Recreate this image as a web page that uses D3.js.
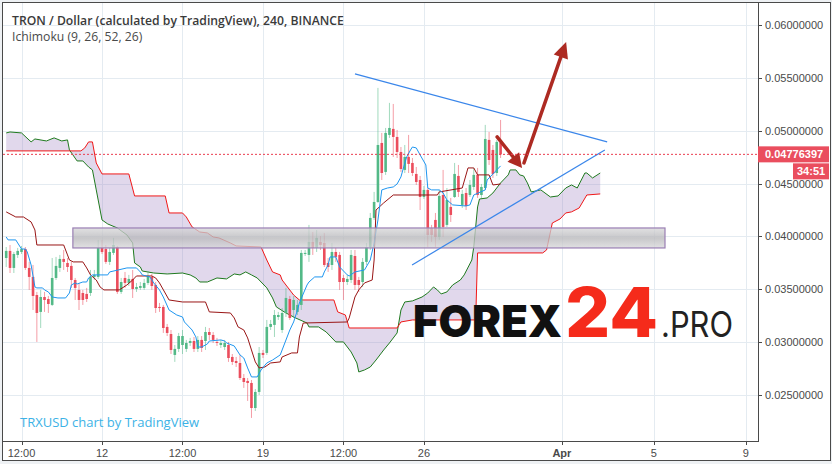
<!DOCTYPE html>
<html><head><meta charset="utf-8">
<script src="https://cdn.jsdelivr.net/npm/d3@7/dist/d3.min.js"></script>
<style>html,body{margin:0;padding:0;background:#eef1f4;}svg{display:block}</style>
</head><body><svg id="c" width="832" height="464"></svg>
<script>
// ---------------- DATA ----------------
const title = "TRON / Dollar (calculated by TradingView), 240, BINANCE";
const subtitle = "Ichimoku (9, 26, 52, 26)";
const credit = "TRXUSD chart by TradingView";
const priceTicks = [0.025, 0.03, 0.035, 0.04, 0.045, 0.05, 0.055, 0.06];
const timeTicks = ["2018-03-08T12:00Z","2018-03-12T00:00Z","2018-03-15T12:00Z","2018-03-19T00:00Z","2018-03-22T12:00Z","2018-03-26T00:00Z","2018-04-01T00:00Z","2018-04-05T00:00Z","2018-04-09T00:00Z"];
const timeLabels = ["12:00","12","12:00","19","12:00","26","Apr","5","9"];
const firstBar = "2018-03-07T20:00Z";   // 4h bars
const barHours = 4;
const lastPrice = 0.04776397;
const countdown = "34:51";

const open = [.03796,.03863,.03702,.03825,.03853,.03881,.03702,.03617,.03446,.03286,
.03427,.03408,.03352,.03607,.03702,.03787,.03749,.03721,.03588,.03494,
.03465,.03456,.03465,.03617,.03617,.03891,.03881,.03759,.03844,.03900,
.03475,.03607,.03560,.03598,.03503,.03513,.03513,.03560,.03617,.03541,
.03333,.03333,.03144,.03077,.02879,.02936,.02973,.02936,.02992,.03011,
.02936,.03021,.03011,.03096,.03068,.03002,.02973,.02954,.02973,.02860,
.02822,.02803,.02661,.02633,.02614,.02377,.02529,.02898,.02898,.03144,
.03163,.03238,.03115,.03276,.03408,.03304,.03286,.03352,.03834,.03825,
.03948,.03891,.03948,.03938,.03749,.03730,.03853,.03825,.03607,.03569,
.03588,.03815,.03588,.03569,.03759,.03900,.04175,.04326,.04884,.04610,
.04960,.05017,.04941,.04799,.04629,.04752,.04695,.04591,.04534,.04373,
.04440,.04080,.04156,.03995,.04392,.04109,.04279,.04373,.04572,.04298,
.04411,.04392,.04468,.04582,.04392,.04458,.04913,.04818,.04600,.04884];
const high = [.03900,.03919,.03853,.03891,.03910,.03900,.03759,.03730,.03475,.03494,
.03475,.03437,.03796,.03806,.03825,.03872,.03796,.03759,.03607,.03560,
.03494,.03513,.03683,.03683,.03967,.03967,.03919,.03891,.03986,.03910,
.03607,.03664,.03636,.03683,.03560,.03569,.03598,.03673,.03645,.03569,
.03371,.03352,.03172,.03115,.02973,.03087,.03115,.03021,.03040,.03049,
.03058,.03058,.03144,.03134,.03096,.03040,.03021,.03021,.03002,.02888,
.02860,.02879,.02699,.02661,.02642,.02557,.02954,.02926,.03210,.03210,
.03304,.03286,.03323,.03513,.03437,.03437,.03399,.03872,.03872,.04109,
.04042,.04061,.04004,.04033,.03796,.03938,.03891,.03853,.03636,.03636,
.03872,.03872,.03617,.03796,.03938,.04222,.04421,.05405,.04979,.05026,
.05263,.05253,.05007,.04846,.04865,.04960,.04742,.04657,.04572,.04477,
.04458,.04109,.04222,.04440,.04629,.04458,.04364,.04695,.04676,.04440,
.04458,.04534,.04648,.04648,.04496,.05055,.04988,.04865,.04913,.05102];
const low = [.03711,.03654,.03654,.03796,.03834,.03683,.03494,.03304,.03002,.03134,
.03286,.03276,.03342,.03588,.03664,.03683,.03664,.03513,.03399,.03304,
.03352,.03380,.03437,.03588,.03598,.03834,.03740,.03730,.03825,.03456,
.03456,.03513,.03531,.03418,.03475,.03494,.03494,.03541,.03494,.03276,
.03286,.03087,.03058,.02888,.02813,.02907,.02888,.02907,.02964,.02907,
.02907,.02907,.02926,.03021,.02992,.02964,.02945,.02926,.02813,.02784,
.02765,.02642,.02567,.02444,.02283,.02349,.02500,.02850,.02879,.03115,
.03049,.03210,.03087,.03238,.03210,.03229,.03257,.03304,.03815,.03759,
.03825,.03853,.03872,.03711,.03664,.03683,.03759,.03494,.03399,.03541,
.03560,.03494,.03475,.03522,.03730,.03872,.04156,.04317,.04534,.04582,
.04932,.04752,.04742,.04610,.04600,.04600,.04572,.04487,.04250,.04354,
.03900,.03948,.03900,.03967,.03995,.04090,.04137,.04364,.04373,.04269,
.04250,.04373,.04440,.04364,.04364,.04440,.04676,.04553,.04572,.04742];
const close = [.03863,.03702,.03834,.03863,.03881,.03702,.03617,.03437,.03276,.03427,
.03399,.03361,.03607,.03721,.03787,.03759,.03711,.03588,.03513,.03399,
.03399,.03408,.03617,.03636,.03891,.03853,.03759,.03853,.03919,.03475,
.03569,.03560,.03598,.03503,.03522,.03531,.03560,.03626,.03531,.03323,
.03323,.03134,.03087,.02926,.02936,.03058,.03058,.02992,.03011,.02936,
.03021,.02945,.03096,.03068,.03021,.02992,.02992,.02992,.02850,.02813,
.02803,.02661,.02623,.02614,.02377,.02529,.02898,.02879,.03144,.03172,
.03257,.03257,.03276,.03418,.03229,.03399,.03352,.03844,.03844,.03948,
.03891,.03986,.03919,.03730,.03711,.03853,.03806,.03569,.03569,.03598,
.03825,.03541,.03541,.03759,.03900,.04175,.04326,.04865,.04600,.04979,
.05026,.04941,.04799,.04638,.04752,.04686,.04600,.04515,.04373,.04440,
.04014,.04014,.03995,.04383,.04090,.04345,.04203,.04591,.04421,.04402,
.04288,.04487,.04582,.04392,.04468,.04922,.04723,.04591,.04894,.04776];

// Ichimoku lines: [bar index, price]
const tenkan = [[0,.03995],[0.5,.03967],[2.5,.03967],[3,.03938],[4,.03881],[5,.03881],[5.5,.03853],[6.5,.03730],[7.5,.03522],[8,.03513],[9.5,.03513],[10,.03494],[11,.03475],[12,.03427],[13.5,.03418],[15.5,.03418],[16.5,.03465],[17,.03541],[18,.03560],[18.5,.03550],[20,.03569],[21,.03569],[21.5,.03607],[22.5,.03636],[26.5,.03636],[27,.03664],[31.5,.03702],[34,.03702],[35,.03664],[35.5,.03636],[37.5,.03617],[38.5,.03560],[40,.03494],[41,.03427],[42.5,.03304],[44.5,.03257],[46,.03238],[46.5,.03191],[48.5,.03115],[49.5,.03049],[50,.02954],[51,.02954],[52.5,.02983],[53,.03011],[56,.03021],[57,.03011],[57.5,.02992],[59.5,.02964],[61,.02879],[62,.02850],[63,.02756],[64,.02671],[65.5,.02671],[66.5,.02737],[68,.02803],[69.5,.02831],[71.5,.02879],[72,.02926],[74,.03115],[75,.03191],[76,.03304],[76.5,.03371],[78.5,.03541],[79,.03569],[80.5,.03617],[82.5,.03617],[83,.03664],[84,.03730],[84.5,.03806],[86,.03806],[87,.03711],[89,.03636],[89.5,.03626],[91,.03664],[93.5,.03683],[95,.03777],[96,.03938],[97,.04156],[98,.04440],[99.5,.04458],[101,.04468],[102,.04496],[103,.04563],[103.5,.04629],[104.5,.04752],[105.5,.04818],[106,.04846],[107,.04837],[108,.04771],[109.5,.04676],[110,.04458],[111,.04440],[113,.04440],[114,.04411],[115,.04345],[116.5,.04298],[120,.04288],[121,.04298],[122,.04392],[125,.04440],[125.5,.04534],[127,.04591],[129,.04667]];
const kijun = [[0,.04232],[2.5,.04184],[4.5,.04184],[6.5,.04137],[7.5,.04061],[8,.03919],[15,.03919],[16,.03825],[16.5,.03777],[17.5,.03759],[20,.03759],[21,.03702],[22,.03636],[23.5,.03588],[24.5,.03522],[25.5,.03494],[29.5,.03494],[31.5,.03541],[33,.03588],[34,.03626],[38,.03626],[39,.03607],[40,.03560],[42.5,.03399],[46,.03380],[52,.03380],[53,.03286],[58.5,.03276],[59.5,.03229],[60.5,.03144],[62,.03115],[63,.03040],[64,.02926],[65,.02813],[66,.02756],[67.5,.02765],[69,.02803],[71.5,.02813],[72,.02860],[74.5,.02898],[76,.02898],[76.5,.03049],[77.5,.03181],[89,.03191],[89.5,.03229],[91,.03427],[92,.03494],[93.5,.03560],[95.5,.03588],[96,.03777],[96.5,.04250],[98.5,.04317],[101,.04392],[112.5,.04392],[113,.04421],[119,.04458],[120.5,.04648],[122,.04648],[123,.04582],[126,.04582],[127,.04487],[129,.04496]];
const spanA = [[0,.04979],[1,.04988],[4,.04979],[6.5,.04894],[7.5,.04922],[10.5,.04903],[12.5,.04932],[14.5,.04903],[16,.04913],[16.5,.04818],[18.5,.04714],[20,.04714],[21.5,.04657],[22.5,.04629],[23.5,.04440],[25,.04156],[26.5,.04118],[29,.04080],[31.5,.04014],[33,.03938],[33.5,.03749],[35,.03711],[35.5,.03673],[38.5,.03654],[42,.03645],[46,.03654],[48,.03636],[49.5,.03607],[50.5,.03569],[52.5,.03569],[55,.03607],[57.5,.03598],[59.5,.03645],[61,.03636],[62.5,.03664],[64,.03636],[65.5,.03607],[68,.03513],[69.5,.03418],[70.5,.03333],[73,.03276],[75.5,.03229],[78.5,.03181],[79,.03144],[81.5,.03144],[83.5,.03096],[86,.03002],[88,.03002],[90,.02907],[91.5,.02803],[92,.02718],[93.5,.02737],[95,.02765],[96.5,.02831],[98.5,.02926],[100,.02992],[102,.03087],[103,.03304],[104,.03380],[106,.03390],[108.5,.03427],[110,.03465],[111.5,.03522],[112.5,.03494],[113.5,.03456],[115,.03475],[116.5,.03541],[118.5,.03588],[119.5,.03636],[121.5,.03777],[122,.03900],[123,.04279],[123.5,.04354],[125.5,.04364],[127,.04411],[129,.04506],[131,.04582],[131.5,.04629],[133,.04629],[134,.04582],[135,.04572],[136,.04506],[137,.04421],[139.5,.04440],[142,.04373],[144,.04383],[146,.04458],[147.5,.04487],[149,.04458],[151,.04600],[151.5,.04600],[153,.04553],[155,.04600]];
const spanB = [[0,.04809],[19.5,.04809],[20.5,.04837],[21.5,.04894],[22.5,.04894],[23.5,.04695],[25,.04591],[32,.04591],[33.5,.04383],[41.5,.04383],[42.5,.04222],[46,.04222],[47,.04184],[48.5,.04090],[50.5,.04042],[52.5,.04033],[54,.03995],[55.5,.03986],[58.5,.03938],[60,.03910],[66.5,.03900],[68,.03777],[69.5,.03664],[71.5,.03636],[72,.03588],[75,.03446],[76.5,.03399],[85.5,.03399],[86.5,.03286],[88.5,.03257],[89.5,.03134],[102,.03134],[103,.03191],[106,.03210],[122.5,.03210],[123,.03844],[140,.03844],[141,.03872],[142.5,.04127],[144.5,.04165],[146,.04222],[147.5,.04232],[149.5,.04269],[151.5,.04392],[155,.04402]];

// Drawings: [bar index, price]
const supportZone = [[17.4, .04080], [171.9, .03891]];
const upperTrend = [[91, .05537], [156.8, .04894]];
const lowerTrend = [[105.9, .03730], [156.2, .04818]];
const smallArrow = [[128.1, .04941], [134.6, .04648]];
const bigArrow = [[135.1, .04695], [146.1, .05840]];

// ---------------- CHART ----------------
const W = 832, H = 464, L = 3, R = 758, T = 3, B = 441;
const svg = d3.select("#c");
const t0 = new Date(firstBar).getTime();
const barDate = i => new Date(t0 + i * barHours * 3600e3);
const x = d3.scaleUtc().domain([new Date("2018-03-07T16:40Z"), new Date("2018-04-09T12:40Z")]).range([L, R]);
const y = d3.scaleLinear().domain([0.02065, 0.06208]).range([B, T]);
const bx = i => x(barDate(i));

svg.append("rect").attr("width", W).attr("height", H).attr("fill", "#eef1f4");
svg.append("rect").attr("x", 2.5).attr("y", 2.5).attr("width", 828).attr("height", 458)
  .attr("fill", "#fff").attr("stroke", "#4a4a4a");

const defs = svg.append("defs");
defs.append("clipPath").attr("id", "plot").append("rect").attr("x", L).attr("y", T).attr("width", R - L).attr("height", B - T);
const grad = defs.append("linearGradient").attr("id", "zone").attr("x1", 0).attr("y1", 0).attr("x2", 0).attr("y2", 1);
grad.append("stop").attr("offset", "0%").attr("stop-color", "#d6d6d8").attr("stop-opacity", 0.75);
grad.append("stop").attr("offset", "50%").attr("stop-color", "#b9b9bc").attr("stop-opacity", 0.8);
grad.append("stop").attr("offset", "100%").attr("stop-color", "#d6d6d8").attr("stop-opacity", 0.75);

const g = svg.append("g").attr("clip-path", "url(#plot)");

// grid
const gridColor = "#e4ebf1";
g.selectAll("line.hg").data(priceTicks).join("line").attr("class", "hg")
  .attr("x1", L).attr("x2", R).attr("y1", d => Math.round(y(d)) + 0.5).attr("y2", d => Math.round(y(d)) + 0.5)
  .attr("stroke", gridColor);
g.selectAll("line.vg").data(timeTicks).join("line").attr("class", "vg")
  .attr("y1", T).attr("y2", B).attr("x1", d => Math.round(x(new Date(d))) + 0.5).attr("x2", d => Math.round(x(new Date(d))) + 0.5)
  .attr("stroke", gridColor);

// cloud fill
const lineGen = d3.line().x(d => bx(d[0])).y(d => y(d[1]));
const cloudPath = lineGen(spanA) + "L" + lineGen(spanB.slice().reverse()).slice(1) + "Z";
g.append("path").attr("d", cloudPath).attr("fill", "#9c7fc0").attr("fill-opacity", 0.3).attr("stroke", "none");
g.append("path").attr("d", lineGen(spanA)).attr("fill", "none").attr("stroke", "#1f7a1f").attr("stroke-width", 1);
g.append("path").attr("d", lineGen(spanB)).attr("fill", "none").attr("stroke", "#f01818").attr("stroke-width", 1);

// candles
const up = "#53b987", dn = "#eb4d5c";
const idx = d3.range(open.length);
const bw = (bx(1) - bx(0)) * 0.68;
g.selectAll("line.wick").data(idx).join("line").attr("class", "wick")
  .attr("x1", i => bx(i)).attr("x2", i => bx(i))
  .attr("y1", i => y(high[i])).attr("y2", i => y(low[i]))
  .attr("stroke", i => close[i] >= open[i] ? up : dn).attr("stroke-opacity", 0.55).attr("stroke-width", 1);
g.selectAll("rect.body").data(idx).join("rect").attr("class", "body")
  .attr("x", i => bx(i) - bw / 2).attr("width", bw)
  .attr("y", i => y(Math.max(open[i], close[i])))
  .attr("height", i => Math.max(1, Math.abs(y(open[i]) - y(close[i]))))
  .attr("fill", i => close[i] >= open[i] ? up : dn);

g.append("path").attr("d", lineGen(kijun)).attr("fill", "none").attr("stroke", "#991515").attr("stroke-width", 1);
g.append("path").attr("d", lineGen(tenkan)).attr("fill", "none").attr("stroke", "#1e96f0").attr("stroke-width", 1);

// support zone
g.append("rect").attr("x", bx(supportZone[0][0])).attr("y", y(supportZone[0][1]))
  .attr("width", bx(supportZone[1][0]) - bx(supportZone[0][0]))
  .attr("height", y(supportZone[1][1]) - y(supportZone[0][1]))
  .attr("fill", "url(#zone)").attr("stroke", "#9a7fb4").attr("stroke-width", 1.2);

// trend lines
[upperTrend, lowerTrend].forEach(tl => {
  g.append("line").attr("x1", bx(tl[0][0])).attr("y1", y(tl[0][1])).attr("x2", bx(tl[1][0])).attr("y2", y(tl[1][1]))
    .attr("stroke", "#3a86ea").attr("stroke-width", 1.2);
});

// arrows
function arrow(a, w, head, hw) {
  const x1 = bx(a[0][0]), y1 = y(a[0][1]), x2 = bx(a[1][0]), y2 = y(a[1][1]);
  const len = Math.hypot(x2 - x1, y2 - y1), ux = (x2 - x1) / len, uy = (y2 - y1) / len;
  const bxp = x2 - ux * head, byp = y2 - uy * head;
  g.append("line").attr("x1", x1).attr("y1", y1).attr("x2", bxp + ux * 2).attr("y2", byp + uy * 2)
    .attr("stroke", "#ad2a22").attr("stroke-width", w).attr("stroke-linecap", "round");
  g.append("path").attr("d", `M${x2},${y2}L${bxp - uy * hw},${byp + ux * hw}L${bxp + uy * hw},${byp - ux * hw}Z`)
    .attr("fill", "#ad2a22");
}
arrow(smallArrow, 3.5, 14, 7.5);
arrow(bigArrow, 3.5, 16, 7.5);

// last price line
g.append("line").attr("x1", L).attr("x2", R).attr("y1", y(lastPrice)).attr("y2", y(lastPrice))
  .attr("stroke", "#ea3c4e").attr("stroke-dasharray", "2,2").attr("stroke-width", 1);

// watermark
const wm = g.append("g");
wm.append("text").attr("x", 413).attr("y", 337).text("FOREX").attr("font-family", "Inter, 'DejaVu Sans'").attr("font-weight", 900)
  .attr("font-size", 44).attr("fill", "#111").attr("textLength", 149).attr("lengthAdjust", "spacingAndGlyphs");
wm.append("text").attr("x", 565).attr("y", 337).text("24").attr("font-family", "Inter, 'DejaVu Sans'").attr("font-weight", 800)
  .attr("font-size", 69).attr("fill", "#f52b1b").attr("textLength", 93).attr("lengthAdjust", "spacingAndGlyphs");
wm.append("text").attr("x", 661).attr("y", 337).text(".PRO").attr("font-family", "Inter, 'DejaVu Sans'").attr("font-weight", 400)
  .attr("font-size", 35).attr("fill", "#222").attr("textLength", 72).attr("lengthAdjust", "spacingAndGlyphs");

// frame lines
svg.append("line").attr("x1", R + 0.5).attr("x2", R + 0.5).attr("y1", T).attr("y2", B + 1).attr("stroke", "#4a4a4a");
svg.append("line").attr("x1", L).attr("x2", R + 1).attr("y1", B + 0.5).attr("y2", B + 0.5).attr("stroke", "#4a4a4a");

// price axis
const fmt = d3.format(".8f");
const pa = svg.append("g");
pa.selectAll("line").data(priceTicks).join("line")
  .attr("x1", R).attr("x2", R + 4).attr("y1", d => Math.round(y(d)) + 0.5).attr("y2", d => Math.round(y(d)) + 0.5).attr("stroke", "#4a4a4a");
pa.selectAll("text").data(priceTicks).join("text")
  .attr("x", R + 7).attr("y", d => y(d) + 4).text(d => fmt(d))
  .attr("font-family", "'Liberation Sans', Arial, sans-serif").attr("font-size", 11).attr("fill", "#4a4a4a");

// time axis
const ta = svg.append("g");
ta.selectAll("line").data(timeTicks).join("line")
  .attr("x1", d => Math.round(x(new Date(d))) + 0.5).attr("x2", d => Math.round(x(new Date(d))) + 0.5)
  .attr("y1", B).attr("y2", B + 4).attr("stroke", "#4a4a4a");
ta.selectAll("text").data(timeTicks).join("text")
  .attr("x", d => x(new Date(d))).attr("y", 457).attr("text-anchor", "middle")
  .text((d, i) => timeLabels[i]).attr("font-weight", (d, i) => timeLabels[i] === "Apr" ? "bold" : "normal")
  .attr("font-family", "'Liberation Sans', Arial, sans-serif").attr("font-size", 11).attr("fill", "#4a4a4a");

// last price labels
const ly = y(lastPrice);
svg.append("rect").attr("x", R).attr("y", ly - 8).attr("width", 71).attr("height", 16).attr("fill", "#ea4e5e");
svg.append("text").attr("x", R + 7).attr("y", ly + 4).text(fmt(lastPrice))
  .attr("font-family", "'Liberation Sans', Arial, sans-serif").attr("font-size", 11).attr("font-weight", "bold").attr("fill", "#fff");
svg.append("rect").attr("x", 793).attr("y", ly + 9).attr("width", 36).attr("height", 16).attr("fill", "#ea4e5e");
svg.append("text").attr("x", 797).attr("y", ly + 21).text(countdown)
  .attr("font-family", "'Liberation Sans', Arial, sans-serif").attr("font-size", 11).attr("font-weight", "bold").attr("fill", "#fff");

// titles
svg.append("text").attr("x", 12).attr("y", 25).text(title)
  .attr("font-family", "'Open Sans', sans-serif").attr("font-size", 12.2).attr("font-weight", 600).attr("fill", "#3a3a3a");
svg.append("text").attr("x", 12).attr("y", 41).text(subtitle)
  .attr("font-family", "'Open Sans', sans-serif").attr("font-size", 12.2).attr("fill", "#4a4a4a");
svg.append("text").attr("x", 20).attr("y", 427).text(credit)
  .attr("font-family", "'Open Sans', sans-serif").attr("font-size", 13).attr("fill", "#3cb2e6");
</script></body></html>
